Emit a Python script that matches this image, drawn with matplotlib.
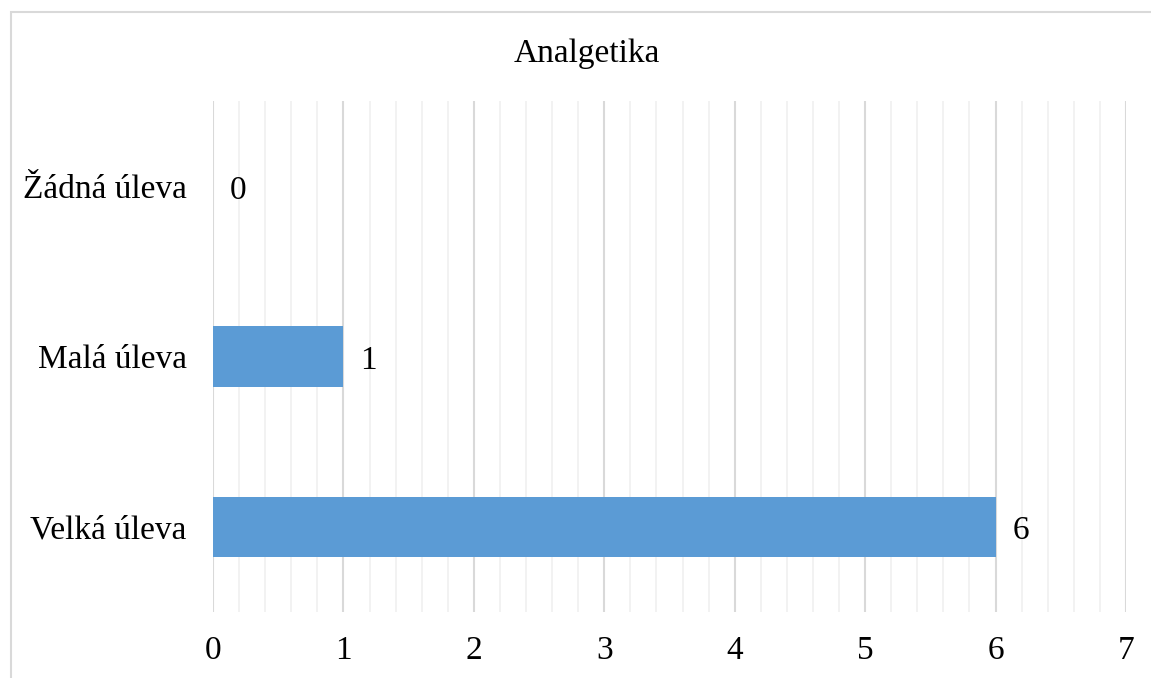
import matplotlib
matplotlib.use("Agg")
import matplotlib.pyplot as plt
from matplotlib.patches import Rectangle
from matplotlib.ticker import MultipleLocator

categories = ["Velká úleva", "Malá úleva", "Žádná úleva"]
values = [6, 1, 0]
title = "Analgetika"
x_ticks = [0, 1, 2, 3, 4, 5, 6, 7]

plt.rcParams["font.family"] = ["Liberation Serif", "DejaVu Serif"]
FS = 24

W, H = 1151, 678
fig = plt.figure(figsize=(W / 100, H / 100), dpi=100)
fig.patch.set_facecolor("white")

# outer chart border (runs off the right and bottom edges)
fig.patches.append(Rectangle((11 / W, -0.1), 1.2, 1 - 12 / H + 0.1,
                             transform=fig.transFigure, fill=False,
                             edgecolor="#D9D9D9", linewidth=1.5, zorder=0))

ax = fig.add_axes([213 / W, (H - 612) / H, (1126 - 213) / W, (612 - 101) / H])
ypos = list(range(len(categories)))
ax.barh(ypos, values, height=0.353, color="#5B9BD5", zorder=3)

ax.set_xlim(0, 7)
ax.set_ylim(-0.5, 2.5)
ax.set_xticks(x_ticks)
ax.set_xticklabels([str(t) for t in x_ticks])
ax.xaxis.set_minor_locator(MultipleLocator(0.2))
ax.set_yticks(ypos)
ax.set_yticklabels(categories)

ax.grid(axis="x", which="major", color="#D9D9D9", linewidth=1.5, zorder=1)
ax.grid(axis="x", which="minor", color="#F0F0F0", linewidth=1.2, zorder=0)
ax.tick_params(axis="both", which="both", length=0, labelsize=FS)
ax.tick_params(axis="x", pad=17)
ax.tick_params(axis="y", pad=19)
for s in ax.spines.values():
    s.set_visible(False)

for y, v in zip(ypos, values):
    ax.annotate(str(v), (v, y), xytext=(12, -3), textcoords="offset points",
                ha="left", va="center", fontsize=FS)

fig.text(587 / W, 1 - 54 / H, title, ha="center", va="center", fontsize=FS)

fig.savefig("out.png", dpi=100)
